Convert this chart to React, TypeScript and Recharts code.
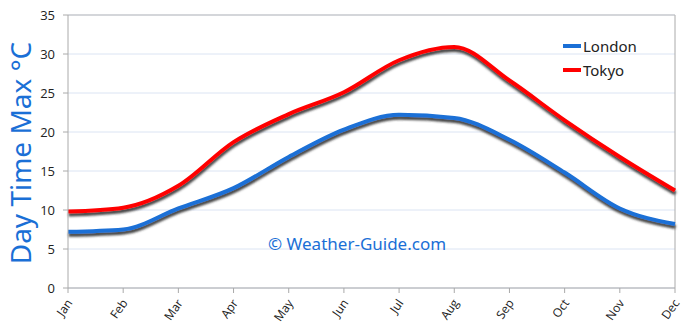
import { LineChart, Line, XAxis, YAxis, CartesianGrid, ReferenceLine, Legend } from 'recharts';

// values, °C
const months = ['Jan', 'Feb', 'Mar', 'Apr', 'May', 'Jun', 'Jul', 'Aug', 'Sep', 'Oct', 'Nov', 'Dec'];
const london = [7.2, 7.5, 10.2, 12.8, 16.8, 20.3, 22.2, 21.8, 19.0, 14.8, 10.2, 8.2];
const tokyo = [9.8, 10.3, 13.1, 18.7, 22.3, 25.1, 29.2, 30.9, 26.6, 21.5, 16.8, 12.5];
const yTicks = [0, 5, 10, 15, 20, 25, 30, 35];

const BLUE = '#1a6fd6';
const RED = '#ff0000';

const data = months.map((m, i) => ({ month: m, London: london[i], Tokyo: tokyo[i] }));

function MonthTick({ x, y, payload }: any) {
  return (
    <g transform={`translate(${x + 5},${y + 8})`}>
      <text
        x={0}
        y={0}
        textAnchor="end"
        transform="rotate(-55)"
        fontSize={12}
        fontFamily="'Open Sans', sans-serif"
        fill="#222"
      >
        {payload.value}
      </text>
    </g>
  );
}

function YTitle() {
  return (
    <text
      transform="translate(31,153) rotate(-90)"
      textAnchor="middle"
      fontSize={28}
      fontFamily="'Noto Sans', sans-serif"
      fill={BLUE}
    >
      Day Time Max °C
    </text>
  );
}

function LegendBox({ payload }: any) {
  return (
    <div style={{ fontFamily: "'Noto Sans', sans-serif", fontSize: 15, color: '#222' }}>
      {(payload || []).map((p: any) => (
        <div key={p.value} style={{ display: 'flex', alignItems: 'center', height: 24 }}>
          <span style={{ display: 'inline-block', width: 18, height: 4, background: p.color, marginRight: 2 }} />
          {p.value}
        </div>
      ))}
    </div>
  );
}

export default function App() {
  return (
    <div style={{ position: 'absolute', left: 0, top: 0, width: 690, height: 329, background: '#fff' }}>
      <LineChart width={690} height={329} data={data} margin={{ top: 15, right: 15, left: 0, bottom: 0 }}>
        <defs>
          <filter id="lineShadow" x="-5%" y="-20%" width="110%" height="140%">
            <feDropShadow dx={0.5} dy={3} stdDeviation={1} floodColor="#333" floodOpacity={0.9} />
          </filter>
        </defs>
        <CartesianGrid horizontal vertical={false} stroke="#dbe4f3" />
        <XAxis
          dataKey="month"
          stroke="#aaa"
          tickSize={5}
          height={41}
          interval={0}
          tick={<MonthTick />}
        />
        <YAxis
          domain={[0, 35]}
          ticks={yTicks}
          width={68}
          stroke="#aaa"
          tickSize={5}
          tickMargin={8}
          tick={{ fontSize: 13, fill: '#222', fontFamily: "'Open Sans', sans-serif" }}
          label={<YTitle />}
        />
        <ReferenceLine x="Dec" stroke="#aaa" />
        <ReferenceLine y={35} stroke="#bbb" />
        <Legend
          layout="vertical"
          verticalAlign="middle"
          align="center"
          wrapperStyle={{ top: 34, left: 563, width: 110 }}
          content={<LegendBox />}
        />
        <Line
          type="monotone"
          dataKey="London"
          stroke={BLUE}
          strokeWidth={4}
          dot={false}
          filter="url(#lineShadow)"
          isAnimationActive={false}
        />
        <Line
          type="monotone"
          dataKey="Tokyo"
          stroke={RED}
          strokeWidth={4}
          dot={false}
          filter="url(#lineShadow)"
          isAnimationActive={false}
        />
      </LineChart>
      <div
        style={{
          position: 'absolute',
          left: 268,
          top: 232,
          fontSize: 17,
          color: BLUE,
          fontFamily: "'Noto Sans', sans-serif",
          whiteSpace: 'nowrap',
        }}
      >
        © Weather-Guide.com
      </div>
    </div>
  );
}
